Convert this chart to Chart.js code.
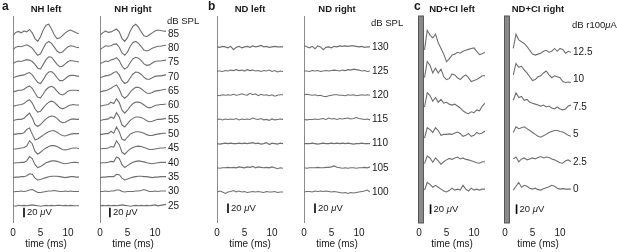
<!DOCTYPE html>
<html>
<head>
<meta charset="utf-8">
<script src="https://cdn.jsdelivr.net/npm/chart.js@4.4.1/dist/chart.umd.min.js"></script>
<style>
  html, body { margin: 0; padding: 0; background: #fff; }
  #wrap { position: relative; width: 617px; height: 252px; }
  #wrap canvas { position: absolute; left: 0; top: 0; }
</style>
</head>
<body>
<div id="wrap"></div>
<script>
// sample times (ms), shared by all traces
const timeMs = [0, 0.5, 1, 1.5, 2, 2.5, 3, 3.5, 4, 4.5, 5, 5.5, 6, 6.5, 7, 7.5, 8, 8.5, 9, 9.5, 10, 10.5, 11, 11.5, 12];
const timeTicks = [0, 5, 10];

// levels, top trace first
const nhLevels = [85, 80, 75, 70, 65, 60, 55, 50, 45, 40, 35, 30, 25];
const ndLevels = [130, 125, 120, 115, 110, 105, 100];
const ciLevels = ['12.5', '10', '7.5', '5', '2.5', '0'];

// waveforms in uV, one row per level
const nhLeft = [
  [-4, 3, 5, 2, 6, 4, 9, 2, -10, -16, -6, 8, 18, 20, 10, -2, -10, -9, -4, 2, 6, 8, 5, 2, 0],
  [-3, 2, 4, 3, 5, 7, 4, 0, -8, -15, -12, 0, 10, 14, 10, 2, -6, -10, -8, -2, 3, 5, 4, 2, 1],
  [-2, 1, 3, 2, 4, 6, 5, 2, -4, -12, -14, -4, 6, 12, 11, 4, -4, -9, -8, -3, 2, 4, 3, 2, 1],
  [-2, 0, 2, 3, 4, 7, 9, 4, -4, -12, -14, -6, 4, 10, 11, 6, -2, -8, -8, -4, 1, 3, 3, 2, 1],
  [-2, 0, 2, 2, 4, 8, 11, 6, -4, -13, -14, -6, 3, 8, 10, 7, 0, -6, -8, -5, 0, 2, 2, 2, 1],
  [-2, 0, 1, 2, 4, 9, 12, 5, -7, -14, -12, -5, 2, 7, 9, 7, 1, -5, -7, -5, -1, 1, 2, 1, 1],
  [-2, 0, 1, 1, 3, 9, 14, 4, -10, -14, -10, -4, 2, 6, 8, 7, 3, -3, -6, -5, -2, 1, 2, 1, 1],
  [-1, 0, 1, 1, 3, 10, 13, 0, -12, -10, -6, -2, 2, 5, 7, 7, 4, 0, -3, -4, -2, 0, 1, 1, 1],
  [-1, -1, 0, 1, 2, 5, 16, 10, -6, -12, -8, -3, 1, 4, 6, 6, 4, 1, -2, -3, -2, 0, 1, 1, 0],
  [-1, 0, 0, 1, 1, 4, 13, 9, -4, -10, -8, -4, 0, 2, 4, 4, 3, 1, -1, -2, -1, 0, 1, 1, 0],
  [-1, 0, 0, 1, 1, 3, 7, 6, -2, -6, -5, -3, -1, 1, 2, 2, 2, 1, 0, -1, 0, 1, 1, 0, 0],
  [-1, 0, 0, 1, 0, 1, 3, 4, 1, -2, -2, -1, 0, 1, 1, 2, 1, 0, 0, 1, 0, 1, 0, 0, 0],
  [0, -1, 1, 0, 1, 0, 1, 2, 1, 0, -1, 0, 1, 0, 1, 0, 1, 1, 0, 1, 0, 1, 0, 0, 0]
];
const nhRight = [
  [-3, 2, 6, 3, 4, 7, 10, 4, -10, -16, -8, 6, 16, 20, 14, 4, -4, -6, -2, 2, 6, 8, 7, 6, 5],
  [-3, 1, 5, 4, 5, 8, 9, 2, -10, -15, -8, 4, 12, 14, 10, 3, -4, -6, -4, 0, 2, 4, 4, 5, 6],
  [-2, 0, 3, 2, 5, 7, 10, 4, -8, -14, -10, 0, 8, 11, 9, 4, -3, -6, -5, -1, 2, 3, 3, 4, 5],
  [-2, 0, 2, 3, 5, 9, 11, 4, -8, -14, -11, -2, 6, 10, 9, 5, -1, -5, -5, -2, 1, 2, 2, 3, 4],
  [-2, 0, 1, 3, 6, 10, 13, 4, -10, -15, -10, -2, 4, 8, 8, 5, 0, -4, -5, -3, 0, 1, 2, 3, 4],
  [-2, 0, 1, 2, 7, 4, 14, 6, -10, -16, -10, -2, 4, 7, 7, 5, 1, -3, -5, -3, 0, 1, 2, 2, 3],
  [-2, 0, 1, 2, 6, 3, 15, 6, -11, -15, -8, -1, 3, 6, 6, 5, 2, -2, -4, -3, -1, 1, 1, 2, 3],
  [-1, 0, 1, 1, 6, 2, 15, 5, -11, -13, -6, 0, 3, 5, 5, 4, 2, -1, -3, -3, -1, 0, 1, 2, 2],
  [-1, 0, 0, 1, 4, 3, 16, 8, -8, -12, -6, -1, 2, 4, 5, 4, 2, 0, -2, -2, -1, 0, 1, 1, 2],
  [-1, 0, 0, 1, 3, 2, 12, 9, -4, -10, -6, -2, 1, 3, 4, 3, 2, 0, -1, -2, -1, 0, 1, 1, 1],
  [-1, 0, 0, 1, 1, 1, 6, 5, -2, -6, -4, -2, 0, 1, 2, 2, 1, 1, 0, -1, 0, 0, 1, 1, 1],
  [0, 0, 1, 0, 1, 1, 3, 3, 0, -1, 0, 0, 0, 1, 1, 2, 4, 2, 0, 0, 1, 0, 1, 1, 1],
  [0, 1, 0, 1, 0, 1, 0, 1, 2, 1, 0, -1, 0, 1, 0, 1, 0, 1, 0, 1, 2, 0, 1, 2, 3]
];
const ndLeft = [
  [0, -1, 1, 0, -2, 1, -6, -1, 1, -2, 0, 1, -1, 2, 0, 1, 3, 0, 1, -1, 0, 1, 0, 0, 0],
  [0, 0, -1, 1, 0, 2, 1, 3, 1, 2, 0, 3, 1, 2, 0, 1, -1, 1, 0, 2, -1, 1, -2, 0, -1],
  [0, -1, 1, 0, 1, 0, 2, 0, 1, 3, 1, 0, 4, 1, 3, -1, 2, 0, 1, -1, 1, -2, 0, 1, 1],
  [0, 1, -1, 1, 0, 1, 0, 2, -1, 1, 0, 1, 0, 3, 1, 0, 2, -1, 0, -2, 1, -1, 0, 1, 0],
  [0, -1, 0, 1, 0, 1, 0, 0, 1, 0, 1, 0, 1, 2, 0, 1, -1, 0, 2, -2, 1, 0, -1, 1, 0],
  [0, -1, 0, 0, 1, 0, 1, 0, 2, 1, 0, 2, 1, 3, 0, 2, 1, 0, 1, 0, 2, 0, -2, 0, -1],
  [0, 2, 0, -3, 0, 1, 3, 0, 2, 0, 1, -1, 0, 1, 0, 1, 0, -1, 1, 0, 0, 1, -1, 0, 0]
];
const ndRight = [
  [3, 0, -2, 1, -4, 2, 0, -6, -1, 0, -2, 1, 0, 2, 1, 2, 1, 2, 2, 1, 0, 1, -1, 0, 0],
  [0, 0, -1, 1, 0, 1, -1, 0, 1, 0, 1, 2, 1, 0, 2, 1, 3, 2, 4, 3, 2, 0, 1, -1, 0],
  [1, 2, 1, 0, 1, -1, 0, -2, -3, -1, 0, 1, 1, 0, 0, -1, 1, 0, 1, -1, 0, 1, 0, 1, 0],
  [0, -1, 0, 0, 1, 0, 1, 2, 0, 3, 1, 2, 0, 2, 1, 2, 3, 1, 2, 4, 2, 1, 0, 1, -1],
  [0, 0, 0, 1, 0, -1, 0, 1, 0, 0, 1, 0, 1, 0, 1, 0, 1, 0, -1, 0, 0, 1, 0, 0, 0],
  [0, -1, 0, 0, 0, 1, 0, 0, 1, 1, 2, 4, 1, 0, -1, 0, -1, 0, 0, -1, 0, 0, 1, 0, 2],
  [0, 1, 1, 0, 2, 1, 2, 1, 2, 1, 0, 1, 0, -1, -2, -1, -3, -1, -2, -1, 0, 1, 2, 4, 0]
];
const ciLeft = [
  [null, null, 5, 46, 36, 30, 38, 20, 8, -4, -20, -14, -6, -4, 0, -2, 2, 4, 6, 8, 9, 2, -5, -3, 0],
  [null, null, 4, 38, 30, 14, 24, 14, 22, 6, 0, 2, 12, 10, 4, 0, 6, 10, 4, -4, -2, 0, 4, 8, 8],
  [null, null, 0, 30, 24, 12, 20, 10, 16, 8, 10, 6, 4, 6, 2, -2, -8, -12, -14, -10, -12, -6, -8, 2, 8],
  [null, null, -8, 14, 10, 4, 14, 8, -2, 0, 0, 1, 0, 3, 5, 2, -4, -2, 2, -4, -2, 4, 1, 3, 7],
  [null, null, -4, 12, 8, -1, 8, 2, -5, 0, 4, 7, 5, 8, 10, 6, 8, 5, 4, 2, 0, -2, -3, 0, 0],
  [null, null, -2, 14, 10, 4, 8, 4, 0, -4, -6, -3, 2, -2, 0, -2, 8, 0, -4, 2, -2, 0, -2, 0, 0]
];
const ciRight = [
  [null, null, null, 8, 38, 26, 22, 18, 12, 4, -4, -6, -4, -2, 2, 4, 0, 2, 8, 2, 8, 6, -2, 2, 0],
  [null, null, null, 10, 34, 26, 28, 20, 14, 6, -2, 0, 6, 8, 14, 18, 10, 4, 8, 6, 4, -4, -6, -5, -6],
  [null, null, null, 14, 30, 20, 22, 14, 16, 10, 8, 6, 4, 2, 4, 0, 2, -2, -4, 0, -4, -6, -4, 2, 4],
  [null, null, null, 4, 16, 12, 14, 16, 12, 8, 4, 0, -4, -6, -3, 0, 4, 6, 8, 8, 6, 5, 2, -2, -4],
  [null, null, null, 6, 10, 0, 6, 8, 4, 6, 8, 6, 9, 11, 8, 10, 9, 6, 4, 1, -2, -3, 2, 4, 0],
  [null, null, null, -2, 6, 14, 4, 8, 6, 2, 0, 2, -1, -2, 1, 3, 5, 8, 6, 2, 0, 1, 0, 0, 0]
];

const scaleBarUV = 20;
const stimWindowMs = [0, 0.9];

// page layout
const W = 617, H = 252, PLOT_TOP = 16, PLOT_BOTTOM = 222;
const UV_PER_PX = 2.1;
const yMax = (PLOT_BOTTOM - PLOT_TOP) * UV_PER_PX;
const FONT = '"Liberation Sans", Arial, Helvetica, sans-serif';
const TEXT = '#1a1a1a';

const panels = [
  { letter: 'a', letterX: 2, title: 'NH left', left: 13, right: 79, traces: nhLeft, base: 34, step: 30.1, barT: 2.0, barLow: 10 },
  { title: 'NH right', left: 100, right: 166, traces: nhRight, base: 34, step: 30.1, barT: 1.8, barLow: 10,
    levels: nhLevels, unit: [['dB SPL']], unitY: 21 },
  { letter: 'b', letterX: 208, title: 'ND left', left: 217, right: 283, traces: ndLeft, base: 63, step: 50.8, barT: 2.0, barLow: 19 },
  { title: 'ND right', left: 304, right: 370, traces: ndRight, base: 63, step: 50.8, barT: 2.0, barLow: 19,
    levels: ndLevels, unit: [['dB SPL']], unitY: 23 },
  { letter: 'c', letterX: 414, title: 'ND+CI left', left: 419, right: 485, traces: ciLeft, base: 69, step: 57.5, barT: 2.1, barLow: 17, stim: true },
  { title: 'ND+CI right', left: 505, right: 571, traces: ciRight, base: 69, step: 57.5, barT: 2.1, barLow: 17, stim: true,
    levels: ciLevels, unit: [['dB r100'], ['\u03bc', true], ['A']], unitY: 25 }
];

function richText(ctx, parts, x, y, size) {
  for (const [s, it] of parts) {
    ctx.font = (it ? 'italic ' : '') + size + 'px ' + FONT;
    ctx.fillText(s, x, y);
    x += ctx.measureText(s).width;
  }
}

function offsetOf(p, i) { return p.base + p.step * (p.traces.length - 1 - i); }

function makeAnnot(p) {
  return {
    id: 'annot',
    beforeDatasetsDraw(chart) {
      if (!p.stim) return;
      const { ctx, scales: { x }, chartArea } = chart;
      const x0 = x.getPixelForValue(stimWindowMs[0]), x1 = x.getPixelForValue(stimWindowMs[1]);
      ctx.save();
      ctx.fillStyle = '#8a8a8a';
      ctx.strokeStyle = '#555';
      ctx.fillRect(x0 - 0.5, chartArea.top, x1 - x0, chartArea.bottom - chartArea.top + 1);
      ctx.strokeRect(x0 - 0.5, chartArea.top, x1 - x0, chartArea.bottom - chartArea.top + 1);
      ctx.restore();
    },
    afterDraw(chart) {
      const { ctx, scales: { x, y }, chartArea } = chart;
      ctx.save();
      ctx.fillStyle = TEXT;
      ctx.textBaseline = 'middle';
      if (p.letter) {
        ctx.font = 'bold 12px ' + FONT;
        ctx.textAlign = 'left';
        ctx.fillText(p.letter, p.letterX, 7);
      }
      ctx.font = 'bold 9.5px ' + FONT;
      ctx.textAlign = 'center';
      ctx.fillText(p.title, (chartArea.left + chartArea.right) / 2, 9);
      ctx.textAlign = 'left';
      if (p.levels) {
        ctx.font = '10px ' + FONT;
        p.levels.forEach((lv, i) => ctx.fillText(String(lv), chartArea.right + 2, y.getPixelForValue(offsetOf(p, i))));
        richText(ctx, p.unit, chartArea.right + 1, p.unitY, 9.5);
      }
      const bx = x.getPixelForValue(p.barT) + 3;
      const by = y.getPixelForValue(p.barLow + scaleBarUV / 2);
      richText(ctx, [['20 '], ['\u03bc', true], ['V']], bx, by, 9.5);
      ctx.restore();
    }
  };
}

const wrap = document.getElementById('wrap');
panels.forEach(p => {
  const cv = document.createElement('canvas');
  cv.width = W; cv.height = H;
  cv.style.width = W + 'px'; cv.style.height = H + 'px';
  wrap.appendChild(cv);

  const datasets = p.traces.map((vals, i) => {
    const off = offsetOf(p, i);
    return {
      data: timeMs.map((t, k) => ({ x: t, y: vals[k] == null ? null : vals[k] + off })),
      borderColor: '#6f6f6f', borderWidth: 1.1, pointRadius: 0, tension: 0
    };
  });
  datasets.push({
    data: [{ x: p.barT, y: p.barLow }, { x: p.barT, y: p.barLow + scaleBarUV }],
    borderColor: '#000', borderWidth: 1.6, pointRadius: 0
  });

  new Chart(cv, {
    type: 'line',
    data: { datasets },
    options: {
      responsive: false, animation: false, events: [],
      layout: { padding: { left: p.left, right: W - p.right, top: PLOT_TOP, bottom: 0 } },
      plugins: { legend: { display: false }, tooltip: { enabled: false } },
      scales: {
        x: {
          type: 'linear', min: 0, max: 12,
          grid: { display: false, drawTicks: false }, border: { display: false },
          ticks: { padding: 5, color: TEXT, font: { size: 10, family: FONT }, maxRotation: 0, autoSkip: false },
          title: { display: true, text: 'time (ms)', color: TEXT, font: { size: 10, family: FONT }, padding: { top: 0, bottom: 2 } },
          afterBuildTicks: s => { s.ticks = timeTicks.map(v => ({ value: v })); },
          afterFit: s => { s.height = H - PLOT_BOTTOM; s.paddingLeft = 0; s.paddingRight = 0; }
        },
        y: {
          min: 0, max: yMax,
          ticks: { display: false }, grid: { display: false, drawTicks: false },
          border: { display: true, color: '#8c8c8c', width: 1 },
          afterFit: s => { s.width = 0; s.paddingTop = 0; s.paddingBottom = 0; }
        }
      }
    },
    plugins: [makeAnnot(p)]
  });
});
</script>
</body>
</html>
